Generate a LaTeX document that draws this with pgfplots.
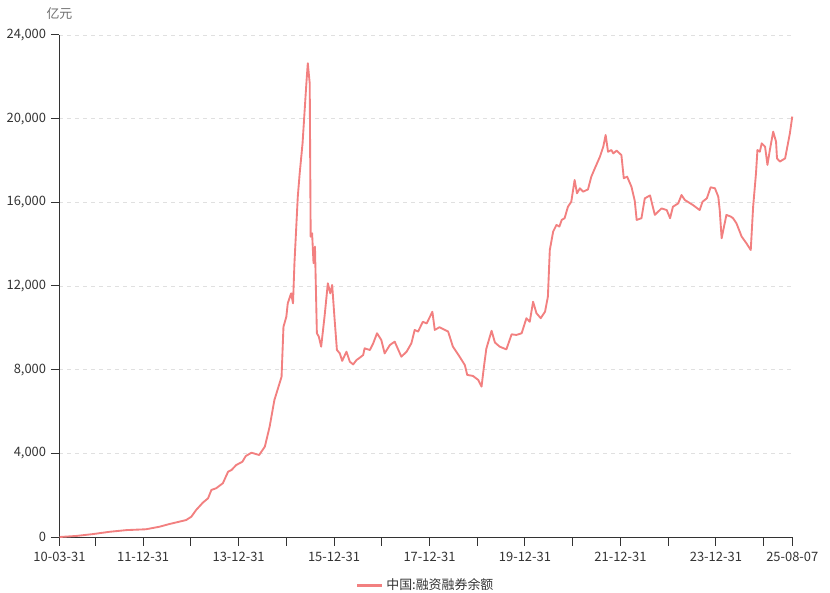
\documentclass[border=0pt]{standalone}
\usepackage{pgfplots}
\pgfplotsset{compat=1.18}
\usepackage{fontspec}
\setmainfont{Noto Sans CJK SC}

\definecolor{linecol}{RGB}{242,128,128}
\definecolor{axiscol}{RGB}{51,51,51}
\definecolor{gridcol}{RGB}{224,224,224}
\definecolor{labcol}{RGB}{110,110,110}

\pgfplotstableread{
year value
2010.25 0
2010.60 50
2010.95 140
2011.30 250
2011.65 330
2012.06 370
2012.34 490
2012.55 620
2012.90 810
2013.01 970
2013.11 1290
2013.25 1640
2013.36 1850
2013.43 2250
2013.53 2330
2013.67 2570
2013.78 3120
2013.85 3200
2013.95 3440
2014.08 3600
2014.15 3870
2014.27 4030
2014.43 3920
2014.55 4320
2014.65 5270
2014.75 6550
2014.90 7660
2014.94 10050
2015.00 10530
2015.03 11170
2015.10 11650
2015.14 11170
2015.17 13090
2015.24 16270
2015.28 17390
2015.34 18820
2015.38 20260
2015.42 21690
2015.45 22650
2015.49 21690
2015.51 14360
2015.54 14520
2015.57 13090
2015.60 13880
2015.64 9740
2015.68 9580
2015.73 9100
2015.80 10530
2015.87 12130
2015.92 11650
2015.96 12050
2016.01 10450
2016.06 8940
2016.12 8780
2016.17 8420
2016.26 8860
2016.33 8380
2016.40 8250
2016.47 8460
2016.52 8540
2016.61 8700
2016.64 9020
2016.75 8940
2016.82 9260
2016.90 9740
2016.99 9420
2017.06 8780
2017.17 9180
2017.27 9340
2017.41 8620
2017.52 8860
2017.62 9260
2017.69 9900
2017.76 9820
2017.86 10290
2017.94 10210
2018.06 10770
2018.11 9900
2018.21 10030
2018.32 9900
2018.39 9820
2018.49 9100
2018.63 8620
2018.74 8220
2018.79 7750
2018.91 7700
2019.02 7510
2019.09 7190
2019.14 8140
2019.19 9000
2019.30 9860
2019.37 9300
2019.47 9100
2019.61 8970
2019.72 9690
2019.82 9660
2019.93 9740
2020.03 10460
2020.10 10290
2020.17 11250
2020.24 10700
2020.33 10460
2020.42 10770
2020.48 11490
2020.52 13720
2020.59 14600
2020.66 14920
2020.72 14840
2020.77 15160
2020.83 15240
2020.90 15790
2020.97 16030
2021.04 17070
2021.09 16430
2021.15 16670
2021.22 16510
2021.32 16620
2021.39 17230
2021.48 17710
2021.57 18180
2021.64 18660
2021.69 19220
2021.74 18420
2021.81 18500
2021.85 18340
2021.92 18470
2022.02 18260
2022.07 17150
2022.14 17230
2022.23 16750
2022.30 16070
2022.34 15160
2022.44 15240
2022.51 16190
2022.62 16330
2022.72 15400
2022.86 15710
2022.97 15630
2023.04 15240
2023.10 15790
2023.21 15950
2023.28 16350
2023.35 16110
2023.52 15870
2023.66 15630
2023.72 16030
2023.81 16190
2023.89 16720
2023.98 16670
2024.05 16270
2024.08 15630
2024.12 14280
2024.22 15400
2024.31 15320
2024.36 15240
2024.43 15000
2024.54 14360
2024.64 14040
2024.73 13720
2024.78 15790
2024.84 17390
2024.87 18500
2024.92 18420
2024.96 18820
2025.03 18660
2025.08 17790
2025.13 18500
2025.20 19380
2025.26 18900
2025.28 18100
2025.34 17950
2025.45 18100
2025.49 18580
2025.55 19300
2025.60 20100
}\margin

\begin{document}
\begin{tikzpicture}
\useasboundingbox (-44.6pt,-41.25pt) rectangle (577.9pt,402.75pt);
\begin{axis}[
  at={(0,0)}, anchor=south west,
  scale only axis,
  width=549.6pt, height=376.5pt,
  xmin=2010.247, xmax=2025.6,
  ymin=0, ymax=24000,
  axis lines*=left,
  axis line style={axiscol, line width=0.75pt},
  tick align=outside,
  major tick length=6.5pt,
  tick style={axiscol, line width=0.75pt},
  xtick={2010.247,2011,2012,2013,2014,2015,2016,2017,2018,2019,2020,2021,2022,2023,2024,2025,2025.6},
  xticklabels={10-03-31,,11-12-31,,13-12-31,,15-12-31,,17-12-31,,19-12-31,,21-12-31,,23-12-31,,25-08-07},
  ytick={0,4000,...,24000},
  scaled y ticks=false,
  yticklabel style={/pgf/number format/.cd, fixed, 1000 sep={,}},
  /pgf/number format/assume math mode=true,
  ticklabel style={font=\fontsize{9.7pt}{11pt}\selectfont, text=axiscol},
  xticklabel style={yshift=-1pt},
  ymajorgrids,
  grid style={gridcol, dashed, line width=0.6pt},
  clip=false,
  legend style={at={(axis description cs:0.5,-0.096)}, anchor=center,
    draw=none, fill=none, font=\fontsize{9.7pt}{11pt}\selectfont,
    text=axiscol, legend columns=1},
  legend image code/.code={\draw[#1, line width=2pt] (0pt,0pt) -- (19pt,0pt);},
]
\addplot[linecol, line width=1.4pt, line join=round] table[x=year, y=value] {\margin};
\addlegendentry{中国:融资融券余额}
\node[text=labcol, font=\fontsize{9.7pt}{11pt}\selectfont] at (rel axis cs:0,1) [yshift=15.75pt] {亿元};
\end{axis}
\end{tikzpicture}
\end{document}
